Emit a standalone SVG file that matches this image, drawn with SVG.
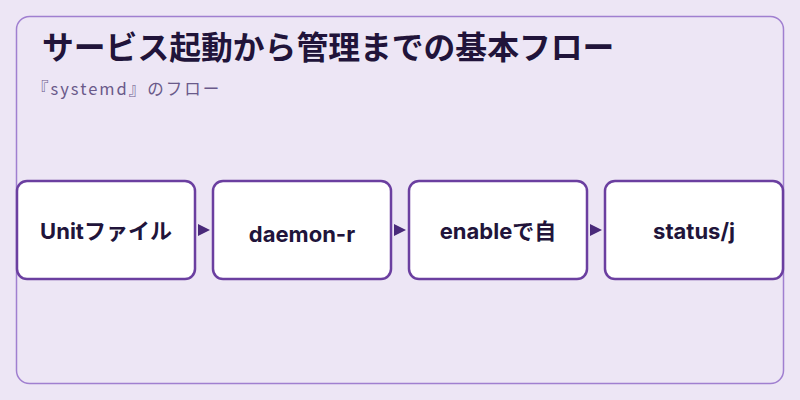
<svg xmlns="http://www.w3.org/2000/svg" width="800" height="400" viewBox="0 0 800 400">
<style>
.box{fill:#fff;stroke:#6b3fa0;stroke-width:2.5}
.lbl{font-family:Inter,"Noto Sans CJK JP",sans-serif;font-size:22px;font-weight:700;fill:#21143a;text-anchor:middle}
.arr{fill:#4a2a7a}
</style>
<rect width="800" height="400" fill="#ede6f5"/>
<rect x="16.5" y="16.5" width="767" height="367" rx="13" fill="#ede6f5" stroke="#a07fd0" stroke-width="1.5"/>
<text x="42" y="59" font-family="'Noto Sans CJK JP',sans-serif" font-size="31.8" font-weight="700" fill="#21143a">サービス起動から管理までの基本フロー</text>
<text x="32" y="95" font-family="'Noto Sans CJK JP',sans-serif" font-size="16.5" letter-spacing="2" fill="#6a5a8a">『systemd』のフロー</text>
<g id="connectors">
<polygon class="arr" points="198,224 210,230 198,236"/>
<polygon class="arr" points="394,224 406,230 394,236"/>
<polygon class="arr" points="590,224 602,230 590,236"/>
</g>
<g id="n1"><rect class="box" x="17" y="181" width="178" height="98" rx="10"/><text class="lbl" x="106" y="239">Unitファイル</text></g>
<g id="n2"><rect class="box" x="213" y="181" width="178" height="98" rx="10"/><text class="lbl" x="302" y="242">daemon-r</text></g>
<g id="n3"><rect class="box" x="409" y="181" width="178" height="98" rx="10"/><text class="lbl" x="498" y="239">enableで自</text></g>
<g id="n4"><rect class="box" x="605" y="181" width="178" height="98" rx="10"/><text class="lbl" x="694" y="239">status/j</text></g>
</svg>
